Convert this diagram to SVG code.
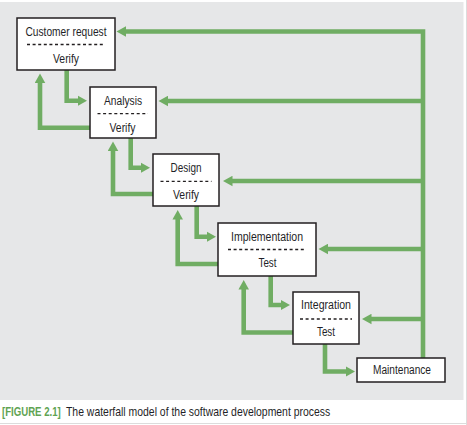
<svg xmlns="http://www.w3.org/2000/svg" width="467" height="425" viewBox="0 0 467 425">
<style>
.box{fill:#fff;stroke:#231f20;stroke-width:1.5}
.t{font-family:"Liberation Sans","DejaVu Sans",sans-serif;font-size:12.5px;fill:#1f1f28;text-anchor:middle}
.dash{stroke:#231f20;stroke-width:1.3;stroke-dasharray:3 2.6}
.c{fill:none;stroke:#70ad63;stroke-width:4.6;stroke-linejoin:miter}
.cap{font-family:"Liberation Sans","DejaVu Sans",sans-serif;font-size:12.5px;fill:#1f1f28}
.fig{fill:#5fa352;font-weight:bold}
</style>
<defs>
<marker id="ah" markerUnits="userSpaceOnUse" markerWidth="10" markerHeight="11" refX="0.5" refY="5.25" orient="auto" viewBox="0 0 10 10.5">
<path d="M0,0 L9.5,5.25 L0,10.5 z" fill="#70ad63"/>
</marker>
</defs>
<rect x="0" y="0" width="467" height="425" fill="#fff"/>
<rect x="0" y="2" width="463.5" height="398" fill="#e6e7e8"/>
<line x1="466.5" y1="0" x2="466.5" y2="425" stroke="#dcdcdc" stroke-width="1"/>
<line x1="0" y1="423.5" x2="467" y2="423.5" stroke="#dcdcdc" stroke-width="1"/>

<g id="connectors">
<path class="c" d="M423,358 V31.5 H125.5" marker-end="url(#ah)"/>
<path class="c" d="M423,101 H167.5" marker-end="url(#ah)"/>
<path class="c" d="M423,181 H232" marker-end="url(#ah)"/>
<path class="c" d="M423,249 H327.5" marker-end="url(#ah)"/>
<path class="c" d="M423,319 H371" marker-end="url(#ah)"/>

<path class="c" d="M66.7,70 V100.7 H78" marker-end="url(#ah)"/>
<path class="c" d="M130.7,138 V167.7 H141" marker-end="url(#ah)"/>
<path class="c" d="M196.7,206 V236.7 H207" marker-end="url(#ah)"/>
<path class="c" d="M270.7,276 V305 H281" marker-end="url(#ah)"/>
<path class="c" d="M325,344 V371.5 H346" marker-end="url(#ah)"/>

<path class="c" d="M90,127.7 H40 V82.5" marker-end="url(#ah)"/>
<path class="c" d="M153,194 H113 V150.5" marker-end="url(#ah)"/>
<path class="c" d="M218,264 H177.7 V219" marker-end="url(#ah)"/>
<path class="c" d="M293,332.5 H243.7 V289" marker-end="url(#ah)"/>
</g>

<g id="customer-request">
<rect class="box" x="17" y="18" width="98" height="52"/>
<text class="t" x="66" y="36" textLength="81" lengthAdjust="spacingAndGlyphs">Customer request</text>
<line class="dash" x1="27" y1="44.5" x2="105" y2="44.5"/>
<text class="t" x="66" y="62.5" textLength="26" lengthAdjust="spacingAndGlyphs">Verify</text>
</g>

<g id="analysis">
<rect class="box" x="90" y="87" width="66" height="51"/>
<text class="t" x="123" y="104.5" textLength="38" lengthAdjust="spacingAndGlyphs">Analysis</text>
<line class="dash" x1="97.5" y1="113.7" x2="148" y2="113.7"/>
<text class="t" x="122.5" y="131.5" textLength="26" lengthAdjust="spacingAndGlyphs">Verify</text>
</g>

<g id="design">
<rect class="box" x="153" y="154" width="66" height="52"/>
<text class="t" x="186" y="171.5" textLength="31" lengthAdjust="spacingAndGlyphs">Design</text>
<line class="dash" x1="160.5" y1="181.3" x2="211.5" y2="181.3"/>
<text class="t" x="186" y="198.5" textLength="26" lengthAdjust="spacingAndGlyphs">Verify</text>
</g>

<g id="implementation">
<rect class="box" x="218" y="223" width="98" height="53"/>
<text class="t" x="267" y="240.7" textLength="72" lengthAdjust="spacingAndGlyphs">Implementation</text>
<line class="dash" x1="228" y1="249.5" x2="306" y2="249.5"/>
<text class="t" x="267.5" y="267.3" textLength="18" lengthAdjust="spacingAndGlyphs">Test</text>
</g>

<g id="integration">
<rect class="box" x="293" y="292" width="66" height="52"/>
<text class="t" x="326" y="309" textLength="50" lengthAdjust="spacingAndGlyphs">Integration</text>
<line class="dash" x1="300" y1="319" x2="352" y2="319"/>
<text class="t" x="326" y="335.7" textLength="18" lengthAdjust="spacingAndGlyphs">Test</text>
</g>

<g id="maintenance">
<rect class="box" x="357" y="358" width="88" height="24"/>
<text class="t" x="402" y="374.3" textLength="58" lengthAdjust="spacingAndGlyphs">Maintenance</text>
</g>

<g id="caption">
<text class="cap fig" transform="translate(2,416) scale(0.77,1)">[FIGURE 2.1]</text>
<text class="cap" transform="translate(66,416) scale(0.835,1)">The waterfall model of the software development process</text>
</g>
</svg>
